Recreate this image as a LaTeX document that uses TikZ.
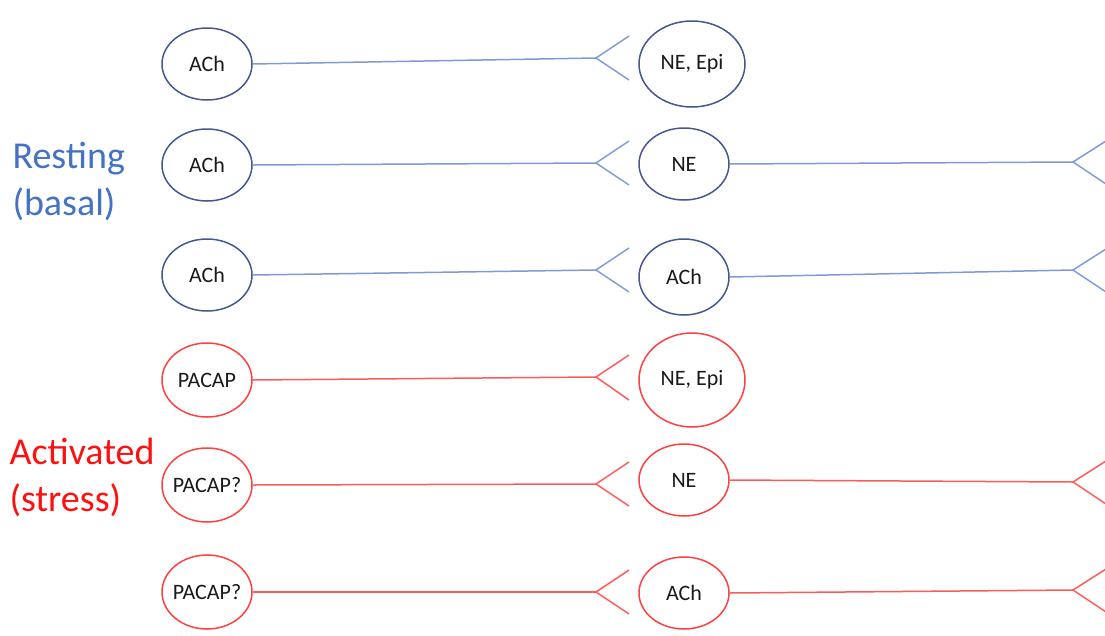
\documentclass[tikz,border=0pt]{standalone}
\usepackage{fontspec}
\setmainfont{Carlito}
\usetikzlibrary{shapes.geometric}
\definecolor{bline}{HTML}{7F9AD6}
\definecolor{bcirc}{HTML}{44588F}
\definecolor{btext}{HTML}{4472C4}
\definecolor{rline}{HTML}{FF5A5A}
\definecolor{rcirc}{HTML}{FF4040}
\definecolor{rtext}{HTML}{FF1010}
\definecolor{ntext}{HTML}{1A1A1A}
\begin{document}
\begin{tikzpicture}[x=1pt,y=-1pt,
  cell/.style={ellipse,draw,line width=1.5pt,inner sep=0pt,font=\fontsize{22}{26}\selectfont,text=ntext},
  bcell/.style={cell,draw=bcirc},
  rcell/.style={cell,draw=rcirc},
  tight/.style={inner xsep=-5pt},
  bax/.style={draw=bline,line width=1.5pt},
  rax/.style={draw=rline,line width=1.5pt},
  lab/.style={align=left,font=\fontsize{38}{47}\selectfont,anchor=west}]
\useasboundingbox (0,0) rectangle (1105,635);
% labels
\node[lab,text=btext] (rest) at (9,181) {Resting\\(basal)};
\node[lab,text=rtext] (act) at (6,477) {Activated\\(stress)};
% row 1
\node[bcell,minimum width=90pt,minimum height=72pt] (a1) at (207,64) {ACh};
\node[bcell,minimum width=106pt,minimum height=86pt] (b1) at (692,64) {NE, Epi};
\coordinate (f1) at (596,58);
\draw[bax] (a1.east) -- (f1);
\draw[bax] (629,36) -- (f1) -- (629,80);
% row 2
\node[bcell,minimum width=90pt,minimum height=72pt] (a2) at (207,165) {ACh};
\node[bcell,minimum width=90pt,minimum height=72pt] (b2) at (684,164) {NE};
\coordinate (f2) at (596,163);
\coordinate (g2) at (1073,162);
\draw[bax] (a2.east) -- (f2);
\draw[bax] (629,141) -- (f2) -- (629,185);
\draw[bax] (b2.east) -- (g2);
\draw[bax] (1106,141) -- (g2) -- (1106,184);
% row 3
\node[bcell,minimum width=90pt,minimum height=72pt] (a3) at (207,275) {ACh};
\node[bcell,minimum width=90pt,minimum height=76pt] (b3) at (684,277) {ACh};
\coordinate (f3) at (596,270);
\coordinate (g3) at (1073,270);
\draw[bax] (a3.east) -- (f3);
\draw[bax] (629,248) -- (f3) -- (629,292);
\draw[bax] (b3.east) -- (g3);
\draw[bax] (1106,249) -- (g3) -- (1106,292);
% row 4
\node[rcell,minimum width=90pt,minimum height=74pt] (a4) at (207,380) {PACAP};
\node[rcell,minimum width=106pt,minimum height=94pt] (b4) at (692,380) {NE, Epi};
\coordinate (f4) at (596,377);
\draw[rax] (a4.east) -- (f4);
\draw[rax] (629,355) -- (f4) -- (629,400);
% row 5
\node[rcell,tight,minimum width=90pt,minimum height=74pt] (a5) at (207,485) {PACAP?};
\node[rcell,minimum width=90pt,minimum height=72pt] (b5) at (684,480) {NE};
\coordinate (f5) at (596,484);
\coordinate (g5) at (1073,482);
\draw[rax] (a5.east) -- (f5);
\draw[rax] (629,462) -- (f5) -- (629,506);
\draw[rax] (b5.east) -- (g5);
\draw[rax] (1106,461) -- (g5) -- (1106,504);
% row 6
\node[rcell,tight,minimum width=90pt,minimum height=74pt] (a6) at (207,592) {PACAP?};
\node[rcell,minimum width=90pt,minimum height=72pt] (b6) at (684,593) {ACh};
\coordinate (f6) at (596,592);
\coordinate (g6) at (1073,590);
\draw[rax] (a6.east) -- (f6);
\draw[rax] (629,570) -- (f6) -- (629,614);
\draw[rax] (b6.east) -- (g6);
\draw[rax] (1106,569) -- (g6) -- (1106,612);
\end{tikzpicture}
\end{document}
